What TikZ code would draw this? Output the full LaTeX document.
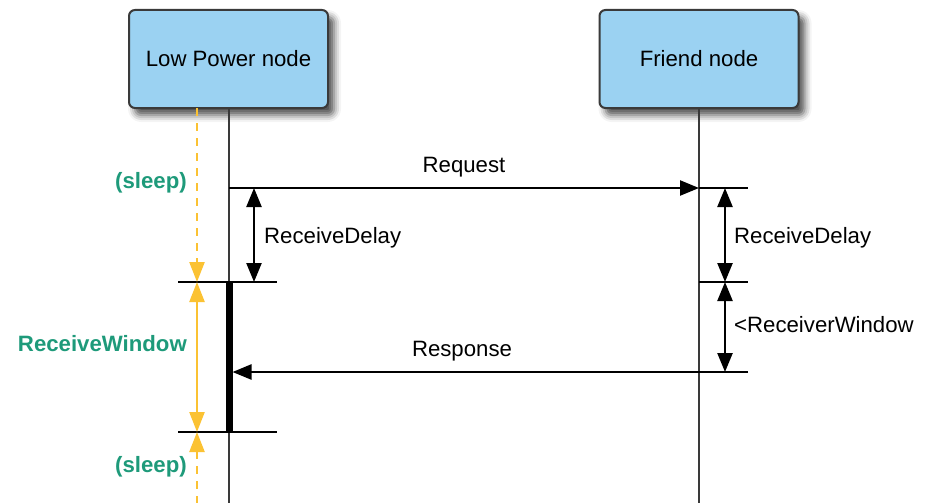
\documentclass[tikz,border=0pt]{standalone}
\usepackage{fontspec}
\setmainfont{Liberation Sans}
\usetikzlibrary{arrows.meta,shadows.blur}
\definecolor{boxfill}{HTML}{9BD2F2}
\definecolor{boxline}{HTML}{3A3A3A}
\definecolor{sleepgreen}{HTML}{1E9A7A}
\definecolor{wakeorange}{HTML}{FBC233}
\tikzset{
  actor/.style={draw=boxline, line width=2pt, fill=boxfill, rounded corners=6pt,
    minimum width=199pt, minimum height=98pt, inner sep=0pt,
    font=\fontsize{22.2}{26}\selectfont,
    blur shadow={shadow xshift=6pt, shadow yshift=-7pt, shadow blur radius=7pt, shadow opacity=70}},
  lifeline/.style={draw=boxline, line width=1.6pt},
  tick/.style={draw=black, line width=2pt},
  btip/.tip={Triangle[length=19pt,width=15pt]},
  otip/.tip={Triangle[length=20pt,width=15pt]},
  msg/.style={draw=black, line width=2.4pt, -{btip}},
  span/.style={draw=black, line width=2.4pt, {btip}-{btip}},
  msglabel/.style={font=\fontsize{22.2}{26}\selectfont, inner sep=0pt},
  statelabel/.style={font=\fontsize{22.2}{26}\selectfont\bfseries, text=sleepgreen, inner sep=0pt},
  wakeline/.style={draw=wakeorange, line width=2.4pt},
}
\begin{document}
\begin{tikzpicture}[x=1pt,y=-1pt]
\useasboundingbox (0,0) rectangle (925,503);

% participants
\node[actor] (lpn) at (228.5,59) {Low Power node};
\node[actor] (fn) at (699,59) {Friend node};

% lifeline end points and event coordinates
\coordinate (lpnEnd) at (229,503);
\coordinate (fnEnd) at (699,503);
\coordinate (sleepTop) at (197,108);
\coordinate (sleepEnd) at (197,503);
\coordinate (lReq) at (229,188);
\coordinate (fReq) at (699,188);
\coordinate (fReqR) at (748,188);
\coordinate (fWin) at (699,282);
\coordinate (fWinR) at (748,282);
\coordinate (lOpenL) at (178,282);
\coordinate (lOpenR) at (277,282);
\coordinate (lCloseL) at (178,432);
\coordinate (lCloseR) at (277,432);
\coordinate (barTop) at (229,282);
\coordinate (barBot) at (229,432);
\coordinate (respStart) at (748,372);
\coordinate (respEnd) at (232.5,372);

% lifelines
\draw[lifeline] (lpn.south -| lpnEnd) -- (lpnEnd);
\draw[lifeline] (fn.south) -- (fnEnd);

% receive window bar
\draw[line width=7pt] (barTop) -- (barBot);

% timing ticks
\draw[tick] (lOpenL) -- (lOpenR);
\draw[tick] (lCloseL) -- (lCloseR);
\draw[tick] (fReq) -- (fReqR);
\draw[tick] (fWin) -- (fWinR);

% messages
\draw[msg] (lReq) -- (fReq);
\node[msglabel] (reqLabel) at (464,167) {Request};
\draw[msg] (respStart) -- (respEnd);
\node[msglabel] (respLabel) at (462,351) {Response};

% delay and window spans
\draw[span] (254,188) -- (254,282);
\node[msglabel, anchor=west] (lDelay) at (264,238) {ReceiveDelay};
\draw[span] (725,188) -- (725,282);
\node[msglabel, anchor=west] (fDelay) at (734,238) {ReceiveDelay};
\draw[span] (725,282) -- (725,372);
\node[msglabel, anchor=west] (fWindow) at (734,325) {<ReceiverWindow};

% low power node state
\draw[wakeline, dash pattern=on 8pt off 7pt, -{otip}] (sleepTop) -- (197,282);
\draw[wakeline, {otip}-{otip}] (197,282) -- (197,432);
\draw[wakeline, dash pattern=on 8pt off 7pt, {otip}-] (197,432) -- (sleepEnd);
\node[statelabel, anchor=east] (s1) at (187,183) {(sleep)};
\node[statelabel, anchor=east] (rw) at (187,344) {ReceiveWindow};
\node[statelabel, anchor=east] (s2) at (187,467) {(sleep)};
\end{tikzpicture}
\end{document}
